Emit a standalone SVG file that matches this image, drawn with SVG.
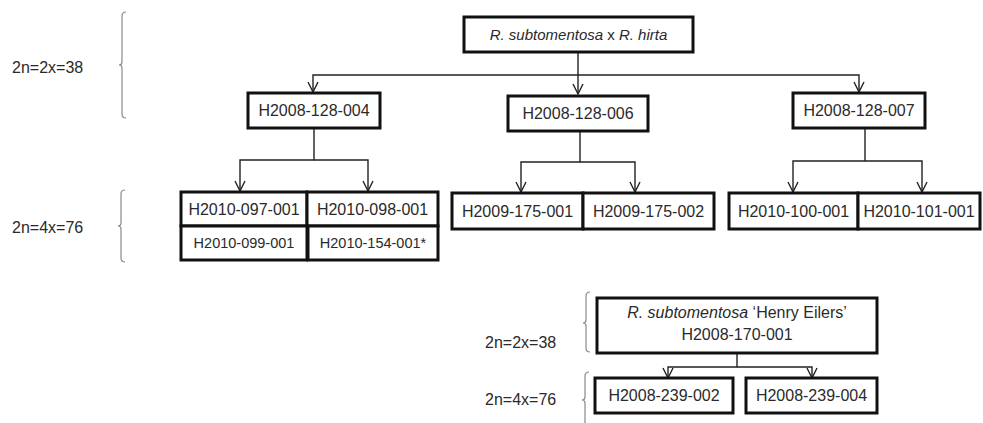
<svg xmlns="http://www.w3.org/2000/svg" width="983" height="423" viewBox="0 0 983 423">
  <defs>
    <marker id="arr" viewBox="-1 -6 12 12" refX="10" refY="0" markerWidth="12" markerHeight="12" markerUnits="userSpaceOnUse" orient="auto">
      <path d="M0,-5 L10,0 L0,5" fill="none" stroke="#222" stroke-width="1.4"/>
    </marker>
    <style>
      .box { fill: #fff; stroke: #111; stroke-width: 3; }
      .t { font-family: "Liberation Sans", Arial, sans-serif; font-size: 16px; fill: #2a2a2a; text-anchor: middle; }
      .ts { font-size: 14.5px; }
      .lbl { font-family: "Liberation Sans", Arial, sans-serif; font-size: 16px; fill: #2a2a2a; }
      .it { font-style: italic; }
      .con { fill: none; stroke: #222; stroke-width: 1.4; }
      .br { fill: none; stroke: #8a8a8a; stroke-width: 1.2; }
    </style>
  </defs>

  <g id="ploidy-labels">
    <text class="lbl" x="12" y="73">2n=2x=38</text>
    <text class="lbl" x="12" y="233">2n=4x=76</text>
    <text class="lbl" x="485" y="348">2n=2x=38</text>
    <text class="lbl" x="485" y="405">2n=4x=76</text>
    <path class="br" d="M126,12 Q122,12 122,16 L122,62 Q122,65 119,65 Q122,65 122,68 L122,114 Q122,118 126,118"/>
    <path class="br" d="M125,190 Q121,190 121,194 L121,223 Q121,226 118,226 Q121,226 121,229 L121,258 Q121,262 125,262"/>
    <path class="br" d="M590,292 Q586,292 586,296 L586,320 Q586,323 583,323 Q586,323 586,326 L586,348 Q586,352 590,352"/>
    <path class="br" d="M589,372 Q585,372 585,376 L585,397 Q585,400 582,400 Q585,400 585,403 L585,430"/>
  </g>

  <g id="connectors">
    <line class="con" x1="578" y1="52" x2="578" y2="94" marker-end="url(#arr)"/>
    <polyline class="con" points="578,75 313,75 313,92" marker-end="url(#arr)"/>
    <polyline class="con" points="578,75 859,75 859,92" marker-end="url(#arr)"/>
    <polyline class="con" points="314,128 314,160 240,160 240,191" marker-end="url(#arr)"/>
    <polyline class="con" points="314,160 368,160 368,191" marker-end="url(#arr)"/>
    <polyline class="con" points="580,131 580,162 521,162 521,192" marker-end="url(#arr)"/>
    <polyline class="con" points="580,162 635,162 635,192" marker-end="url(#arr)"/>
    <polyline class="con" points="865,128 865,161 793,161 793,192" marker-end="url(#arr)"/>
    <polyline class="con" points="865,161 922,161 922,192" marker-end="url(#arr)"/>
    <polyline class="con" points="737,353 737,367 668,367 668,378" marker-end="url(#arr)"/>
    <polyline class="con" points="737,367 812,367 812,378" marker-end="url(#arr)"/>
  </g>

  <g id="cross">
    <rect class="box" x="464" y="17" width="229" height="35"/>
    <text class="t it" x="578.5" y="40" style="font-size:15px">R. subtomentosa<tspan font-style="normal"> x  </tspan>R. hirta</text>
  </g>

  <g id="H2008-128-004">
    <rect class="box" x="248" y="93" width="132" height="35"/>
    <text class="t" x="314" y="116">H2008-128-004</text>
  </g>
  <g id="H2008-128-006">
    <rect class="box" x="508" y="96" width="140" height="35"/>
    <text class="t" x="578" y="119">H2008-128-006</text>
  </g>
  <g id="H2008-128-007">
    <rect class="box" x="793" y="93" width="132" height="35"/>
    <text class="t" x="859" y="116">H2008-128-007</text>
  </g>

  <g id="H2010-097-001">
    <rect class="box" x="181" y="192" width="126" height="34"/>
    <text class="t" x="244" y="215">H2010-097-001</text>
  </g>
  <g id="H2010-098-001">
    <rect class="box" x="307" y="192" width="131" height="34"/>
    <text class="t" x="372.5" y="215">H2010-098-001</text>
  </g>
  <g id="H2010-099-001">
    <rect class="box" x="181" y="226" width="126" height="34"/>
    <text class="t ts" x="244" y="248">H2010-099-001</text>
  </g>
  <g id="H2010-154-001">
    <rect class="box" x="308" y="226" width="130" height="34"/>
    <text class="t ts" x="373" y="248">H2010-154-001*</text>
  </g>

  <g id="H2009-175-001">
    <rect class="box" x="452" y="193" width="131" height="36"/>
    <text class="t" x="517.5" y="217">H2009-175-001</text>
  </g>
  <g id="H2009-175-002">
    <rect class="box" x="583" y="193" width="131" height="36"/>
    <text class="t" x="648.5" y="217">H2009-175-002</text>
  </g>

  <g id="H2010-100-001">
    <rect class="box" x="729" y="193" width="129" height="36"/>
    <text class="t" x="793.5" y="217">H2010-100-001</text>
  </g>
  <g id="H2010-101-001">
    <rect class="box" x="858" y="193" width="122" height="36"/>
    <text class="t" x="919" y="217">H2010-101-001</text>
  </g>

  <g id="H2008-170-001">
    <rect class="box" x="597" y="298" width="280" height="55"/>
    <text class="t" x="737" y="318"><tspan font-style="italic">R. subtomentosa</tspan> ‘Henry Eilers’</text>
    <text class="t" x="737" y="340">H2008-170-001</text>
  </g>

  <g id="H2008-239-002">
    <rect class="box" x="595" y="378" width="138" height="35"/>
    <text class="t" x="664" y="401">H2008-239-002</text>
  </g>
  <g id="H2008-239-004">
    <rect class="box" x="746" y="378" width="131" height="35"/>
    <text class="t" x="811.5" y="401">H2008-239-004</text>
  </g>
</svg>
